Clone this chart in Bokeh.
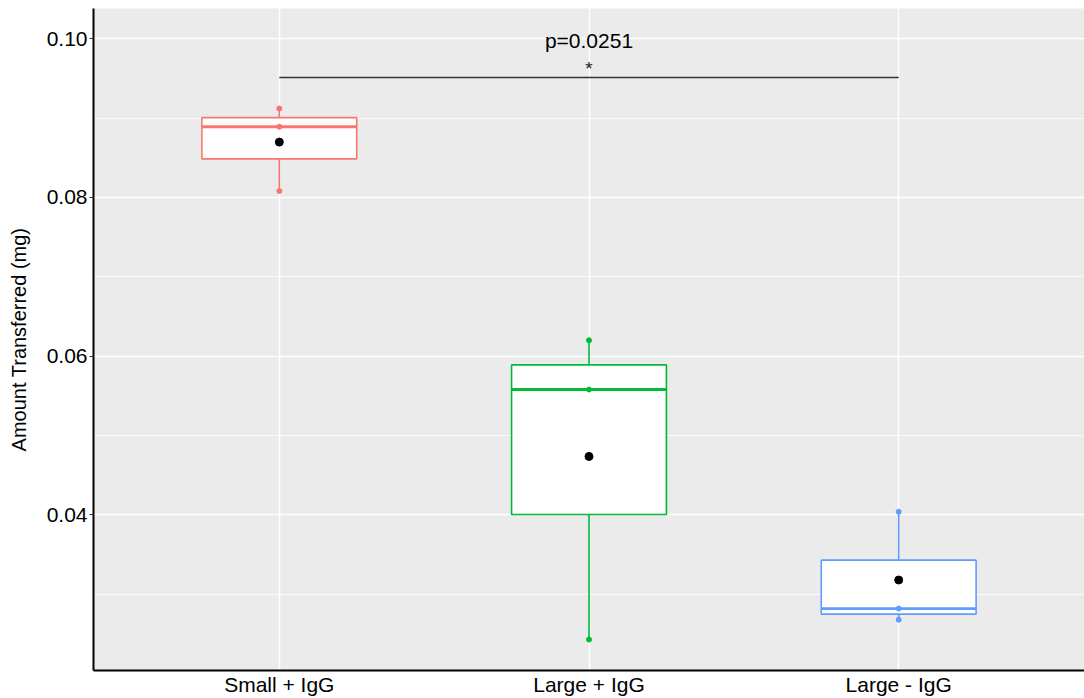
import numpy as np
from bokeh.plotting import figure
from bokeh.models import FixedTicker, Range1d, ColumnDataSource
from bokeh.embed import file_html
from bokeh.resources import INLINE
from bokeh.core.properties import value

# ---- data ----
groups = ["Small + IgG", "Large + IgG", "Large - IgG"]
small_igg = [0.0912, 0.0889, 0.0808]
large_igg = [0.0620, 0.0558, 0.0243]
large_no_igg = [0.0404, 0.0282, 0.0268]
series = [small_igg, large_igg, large_no_igg]
colors = ["#F8766D", "#00BA38", "#619CFF"]
y_ticks = [0.04, 0.06, 0.08, 0.10]
y_minor = [0.03, 0.05, 0.07, 0.09]
p_label = "p=0.0251"
star_label = "*"
sig_y = 0.0951

FONT = "Liberation Sans"

p = figure(width=1084, height=698, output_backend="svg", toolbar_location=None,
           x_range=Range1d(0.4, 3.6), y_range=Range1d(0.0204, 0.1038),
           min_border_left=93, min_border_right=0, min_border_top=8, min_border_bottom=28)

p.background_fill_color = "#EBEBEB"
p.border_fill_color = "white"
p.outline_line_color = None

xs = [1, 2, 3]

# axes
p.xaxis.ticker = FixedTicker(ticks=xs)
p.xaxis.major_label_overrides = {i + 1: g for i, g in enumerate(groups)}
p.xaxis.major_tick_line_color = None
p.xaxis.major_tick_out = 0
p.xaxis.major_tick_in = 0
p.xaxis.minor_tick_line_color = None
p.xaxis.minor_tick_out = 0
p.xaxis.axis_line_color = "black"
p.xaxis.axis_line_width = 2
p.xaxis.major_label_text_font = FONT
p.xaxis.major_label_text_font_size = "21px"
p.xaxis.major_label_text_color = "black"
p.xaxis.major_label_standoff = 2

p.yaxis.ticker = FixedTicker(ticks=y_ticks, minor_ticks=y_minor)
p.yaxis.major_label_overrides = {t: f"{t:.2f}" for t in y_ticks}
p.yaxis.axis_line_color = "black"
p.yaxis.axis_line_width = 2
p.yaxis.major_tick_out = 4
p.yaxis.major_tick_in = 0
p.yaxis.major_tick_line_color = "#333333"
p.yaxis.minor_tick_line_color = None
p.yaxis.major_label_text_font = FONT
p.yaxis.major_label_text_font_size = "21px"
p.yaxis.major_label_text_color = "black"
p.yaxis.major_label_standoff = 2
p.yaxis.axis_label = "Amount Transferred (mg)"
p.yaxis.axis_label_text_font = FONT
p.yaxis.axis_label_text_font_size = "20px"
p.yaxis.axis_label_text_font_style = "normal"
p.yaxis.axis_label_text_color = "black"
p.yaxis.axis_label_standoff = 14

p.xgrid.grid_line_color = "white"
p.xgrid.grid_line_width = 1.5
p.ygrid.grid_line_color = "white"
p.ygrid.grid_line_width = 1.5
p.ygrid.minor_grid_line_color = "white"
p.ygrid.minor_grid_line_width = 0.8

# box statistics
q1, med, q3, lo, hi, mean = [], [], [], [], [], []
for s in series:
    a = np.array(s)
    q1.append(np.percentile(a, 25))
    med.append(np.percentile(a, 50))
    q3.append(np.percentile(a, 75))
    lo.append(a.min())
    hi.append(a.max())
    mean.append(a.mean())

bw = 0.5
src = ColumnDataSource(dict(x=xs, xl=[x - bw / 2 for x in xs], xr=[x + bw / 2 for x in xs],
                            q1=q1, med=med, q3=q3, lo=lo, hi=hi, mean=mean, color=colors))

p.segment(x0="x", y0="q3", x1="x", y1="hi", line_color="color", line_width=1.6, source=src)
p.segment(x0="x", y0="q1", x1="x", y1="lo", line_color="color", line_width=1.6, source=src)
p.vbar(x="x", top="q3", bottom="q1", width=bw, fill_color="white", line_color="color",
       line_width=1.6, source=src)
p.segment(x0="xl", y0="med", x1="xr", y1="med", line_color="color", line_width=2.8, source=src)

# raw points
px, py, pc = [], [], []
for x, s, c in zip(xs, series, colors):
    for v in s:
        px.append(x); py.append(v); pc.append(c)
p.scatter(px, py, size=5, fill_color=pc, line_color=pc)

# mean
p.scatter("x", "mean", size=8, fill_color="black", line_color="black", source=src)

# significance
p.segment(x0=[1], y0=[sig_y], x1=[3], y1=[sig_y], line_color="#333333", line_width=1.6)
p.text(x=[2], y=[0.09975], text=[p_label], text_align="center", text_baseline="middle",
       text_font=value(FONT), text_font_size="21px", text_color="black")
p.text(x=[2], y=[0.0962], text=[star_label], text_align="center", text_baseline="middle",
       text_font=value(FONT), text_font_size="19px", text_color="#222222")

open("out.html", "w").write(file_html(p, INLINE))
